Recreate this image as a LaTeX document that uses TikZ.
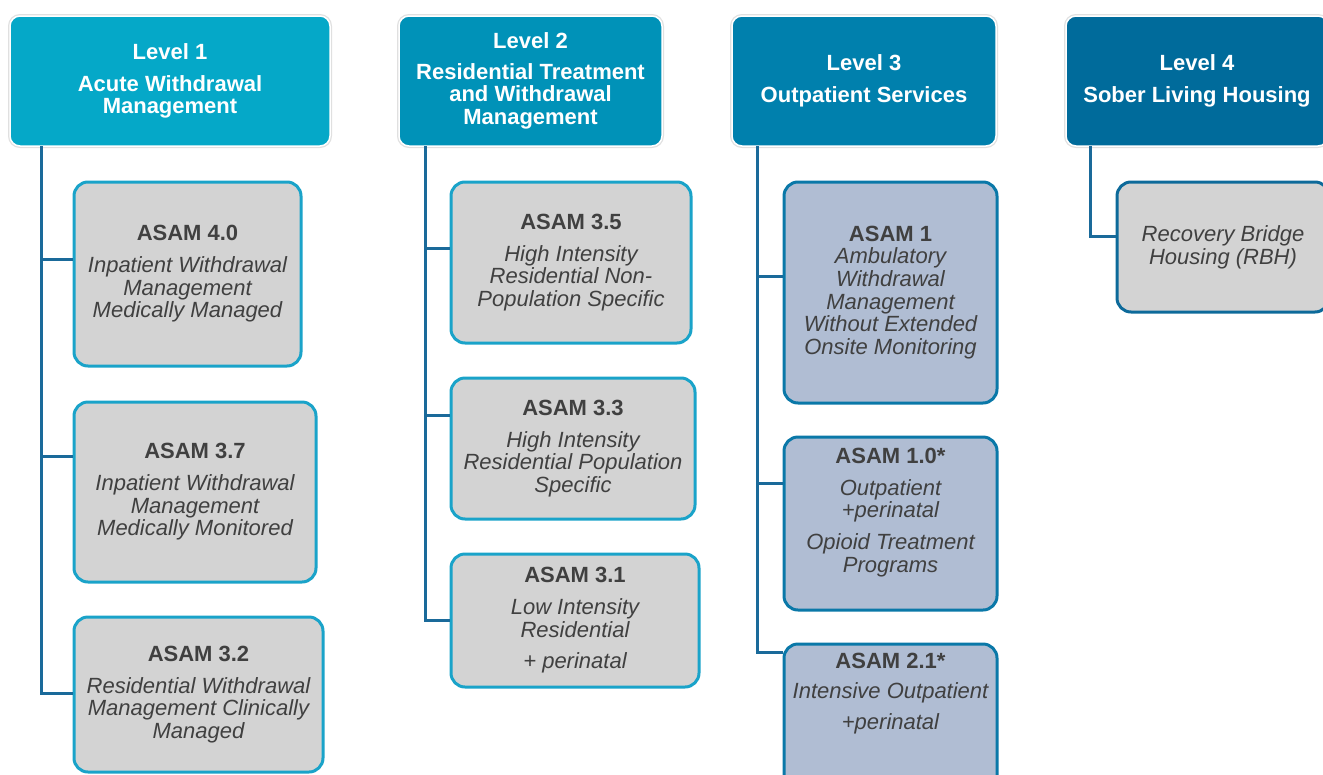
\documentclass[tikz,border=0pt]{standalone}
\usepackage{fontspec}
\setmainfont{Liberation Sans}
\usetikzlibrary{calc}
\definecolor{levelA}{HTML}{05A8C8}
\definecolor{levelB}{HTML}{0092B8}
\definecolor{levelC}{HTML}{0080AD}
\definecolor{levelD}{HTML}{006B9B}
\definecolor{edgeA}{HTML}{1AA3C9}
\definecolor{edgeC}{HTML}{0A78A8}
\definecolor{edgeD}{HTML}{0D6A9A}
\definecolor{boxgray}{HTML}{D3D3D3}
\definecolor{boxblue}{HTML}{B0BDD3}
\definecolor{linkblue}{HTML}{1A6A9A}
\definecolor{textgray}{HTML}{404040}
\def\asam#1{{\upshape\bfseries ASAM #1}}
\tikzset{
	header/.style={rounded corners=10pt, fill=#1, draw=white, line width=1.5pt,
		preaction={draw=black!12, line width=4pt},
		text=white, font=\bfseries\fontsize{22}{22.7}\selectfont, align=center,
		inner sep=0pt, minimum height=130pt},
	child/.style={draw=#1, line width=3pt, rounded corners=14pt, text=textgray,
		font=\itshape\fontsize{22}{22.7}\selectfont, align=center, inner sep=0pt},
	link/.style={draw=linkblue, line width=3pt}
}
\begin{document}
\begin{tikzpicture}[x=1pt, y=-1pt]
		%%%%% START %%%%%
		\useasboundingbox (0, 0) rectangle (1323, 774);
		
		\node[header=levelA, minimum width=320pt] (h1) at (170, 81) {Level 1\\[9pt]Acute Withdrawal\\Management};
		\node[header=levelB, minimum width=263pt] (h2) at (530.5, 81) {Level 2\\[8pt]Residential Treatment\\and Withdrawal\\Management};
		\node[header=levelC, minimum width=264pt] (h3) at (864, 81) {Level 3\\[9pt]Outpatient Services};
		\node[header=levelD, minimum width=262pt] (h4) at (1197, 81) {Level 4\\[9pt]Sober Living Housing};
		
		\coordinate (s1) at (41, 146);
		\coordinate (s2) at (425, 146);
		\coordinate (s3) at (757, 146);
		\coordinate (s4) at (1090, 146);
		
		% level 1
		\node[child=edgeA, fill=boxgray, minimum width=227pt, minimum height=184pt] (a40) at (187.5, 274) {\asam{4.0}\\[9pt]Inpatient Withdrawal\\Management\\Medically Managed};
		\node[child=edgeA, fill=boxgray, minimum width=242pt, minimum height=180pt] (a37) at (195, 492) {\asam{3.7}\\[9pt]Inpatient Withdrawal\\Management\\Medically Monitored};
		\node[child=edgeA, fill=boxgray, minimum width=249pt, minimum height=155pt] (a32) at (198.5, 694.5) {\asam{3.2}\\[9pt]Residential Withdrawal\\Management Clinically\\Managed};
		
		% level 2
		\node[child=edgeA, fill=boxgray, minimum width=240pt, minimum height=161pt] (a35) at (571, 262.5) {\asam{3.5}\\[9pt]High Intensity\\Residential Non-\\Population Specific};
		\node[child=edgeA, fill=boxgray, minimum width=244pt, minimum height=141pt] (a33) at (573, 448.5) {\asam{3.3}\\[9pt]High Intensity\\Residential Population\\Specific};
		\node[child=edgeA, fill=boxgray, minimum width=248pt, minimum height=133pt] (a31) at (575, 620.5) {\asam{3.1}\\[9pt]Low Intensity\\Residential\\[9pt]+ perinatal};
		
		% level 3
		\node[child=edgeC, fill=boxblue, minimum width=213pt, minimum height=221pt] (a1) at (890.5, 292.5) {\asam{1}\\Ambulatory\\Withdrawal\\Management\\Without Extended\\Onsite Monitoring};
		\node[child=edgeC, fill=boxblue, minimum width=213pt, minimum height=173pt] (a10) at (890.5, 523.5) {\asam{1.0*}\\[9pt]Outpatient\\+perinatal\\[9pt]Opioid Treatment\\Programs\\[4pt]\mbox{}};
		\node[child=edgeC, fill=boxblue, minimum width=213pt, minimum height=162pt] (a21) at (890.5, 725) {\asam{2.1*}\\[8pt]Intensive Outpatient\\[8pt]+perinatal\\[45pt]\mbox{}};
		
		% level 4
		\node[child=edgeD, fill=boxgray, minimum width=212pt, minimum height=130pt] (rbh) at (1223, 247) {Recovery Bridge\\Housing (RBH)};
		
		\draw[link] (s1) |- (a40.west |- 0, 259);
		\draw[link] (s1) |- (a37.west |- 0, 456);
		\draw[link] (s1) |- (a32.west |- 0, 693);
		
		\draw[link] (s2) |- (a35.west |- 0, 248);
		\draw[link] (s2) |- (a33.west |- 0, 415);
		\draw[link] (s2) |- (a31.west |- 0, 620);
		
		\draw[link] (s3) |- (a1.west |- 0, 276);
		\draw[link] (s3) |- (a10.west |- 0, 483);
		\draw[link] (s3) |- (a21.west |- 0, 652);
		
		\draw[link] (s4) |- (rbh.west |- 0, 236);
		
		%%%%% END %%%%%
	\end{tikzpicture}
\end{document}
